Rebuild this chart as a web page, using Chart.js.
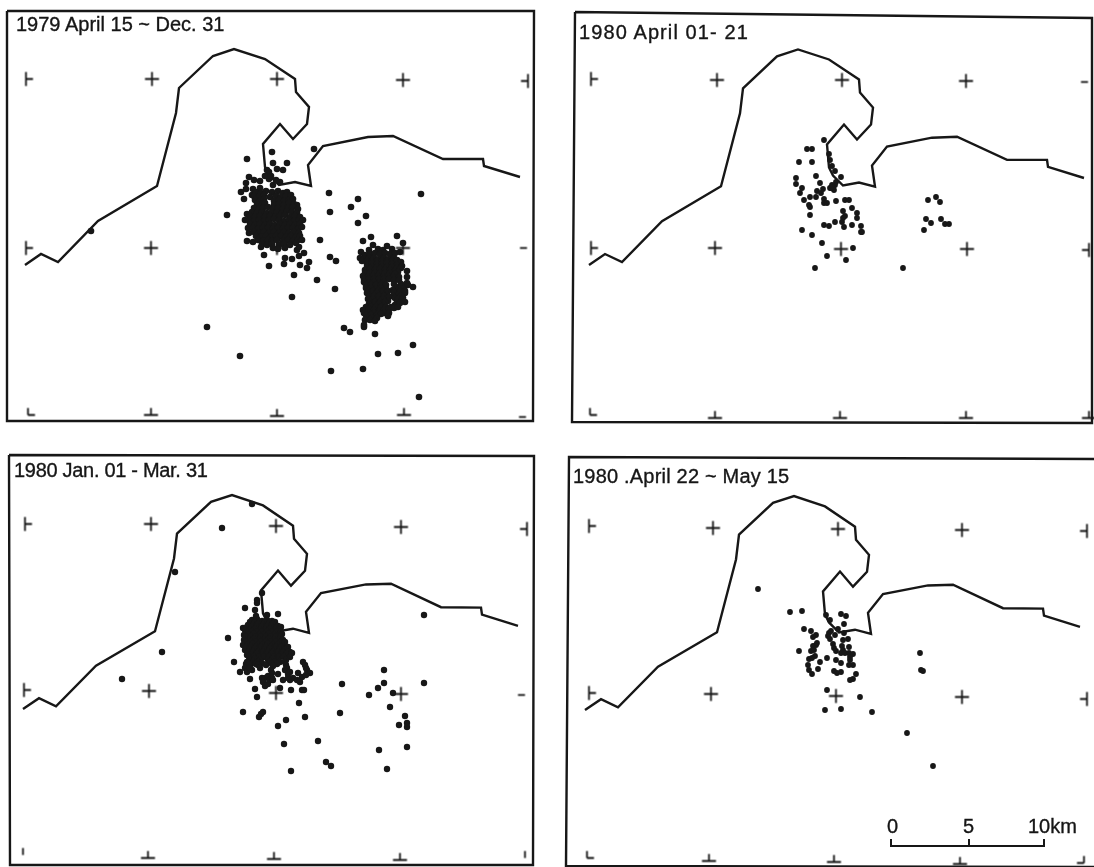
<!DOCTYPE html>
<html>
<head>
<meta charset="utf-8">
<title>Epicentre maps 1979-1980</title>
<script src="https://cdn.jsdelivr.net/npm/chart.js@4/dist/chart.umd.min.js"></script>
<style>
  html, body { margin: 0; padding: 0; background: #fff; overflow: hidden; }
  #sheet { position: relative; width: 1094px; height: 867px; overflow: hidden; }
  canvas { position: absolute; }
  .lbl {
    position: absolute; color: #161616; white-space: nowrap; line-height: 1;
    font-family: "Liberation Sans", sans-serif; font-size: 20px; transform: translateY(-50%);
    -webkit-text-stroke: .35px #161616;
  }
</style>
</head>
<body>
<div id="sheet"></div>
<script>
'use strict';

// All values are positions on the scanned sheet.

// ── Titles ──────────────────────────────────
const titles = ['1979 April 15 ~ Dec. 31', '1980 April 01- 21', '1980 Jan. 01 - Mar. 31', '1980 .April 22 ~ May 15'];

// ── Coast, as traced in the first panel ─────
const coastX = [25, 41, 58, 98, 157, 176, 179, 213, 234, 265, 295, 296, 309, 307, 293, 280, 263, 265, 269, 279, 295, 311, 308, 323, 368, 393, 443, 483, 484, 520];
const coastY = [265, 254, 262, 221, 186, 113, 88, 56, 49, 59, 79, 92, 107, 124, 139, 124, 144, 167, 175, 185, 182, 186, 165, 146, 137, 136, 159, 159, 166, 177];
// how far each panel's copy of the map sits from the first: dx, dy, tilt
const coastShift = [[0, 0, 0], [564, 0, 0.002], [-2, 444, 0.01], [560, 445, 0.01]];

// ── Frames ──────────────────────────────────
const frame1 = [[7, 11], [534, 11], [533, 421], [7, 421], [7, 11]];
const frame2 = [[575, 12], [1092, 18], [1092, 423], [572, 422], [575, 12]];
const frame3 = [[9, 455], [534, 456], [533, 865], [10, 865], [9, 455]];
const frame4 = [[1094, 459], [569, 457], [566, 866], [1094, 867]];

// ── Graticule marks, five columns by three rows ──
const cross1 = [[26, 79], [152, 79], [277, 79], [403, 80], [528, 81], [26, 248], [151, 248], [277, 248], [403, 248], [527, 248], [28, 415], [151, 415], [277, 416], [404, 415], [526, 417]];
const cross2 = [[591, 79], [717, 80], [842, 80], [966, 81], [1088, 82], [591, 248], [715, 248], [841, 249], [967, 249], [1089, 250], [590, 415], [715, 418], [840, 418], [966, 418], [1089, 418]];
const cross3 = [[25, 524], [151, 524], [276, 526], [401, 527], [527, 529], [24, 690], [149, 691], [276, 693], [401, 694], [525, 695], [23, 855], [148, 858], [274, 859], [400, 860], [525, 858]];
const cross4 = [[589, 526], [713, 528], [838, 529], [962, 530], [1087, 531], [589, 693], [711, 694], [836, 696], [962, 697], [1087, 699], [587, 858], [709, 861], [834, 862], [960, 864], [1084, 863]];
const crossArms1 = ['NES', 'NESW', 'NESW', 'NESW', 'NSW', 'NES', 'NESW', 'NESW', 'NESW', 'W', 'NE', 'NEW', 'NEW', 'NEW', 'W'];
const crossArms2 = ['NES', 'NESW', 'NESW', 'NESW', 'W', 'NES', 'NESW', 'NESW', 'NESW', 'NSW', 'NE', 'NEW', 'NEW', 'NEW', 'NEW'];
const crossArms3 = ['NES', 'NESW', 'NESW', 'NESW', 'NSW', 'NES', 'NESW', 'NESW', 'NESW', 'W', 'N', 'NEW', 'NEW', 'NEW', 'N'];
const crossArms4 = ['NES', 'NESW', 'NESW', 'NESW', 'NSW', 'NES', 'NESW', 'NESW', 'NESW', 'NSW', 'NE', 'NEW', 'NEW', 'NEW', 'NW'];

// ── Epicentres ──────────────────────────────
const quakes1 = [
  [247,159],[272,152],[273,163],[277,169],[283,170],[287,163],[314,149],[227,215],[329,193],[330,212],[358,199],[351,207],[366,216],[358,223],[421,194],[320,240],
  [363,241],[371,237],[397,236],[403,243],[330,257],[336,261],[317,280],[335,289],[292,297],[294,275],[269,266],[264,255],[261,247],[284,264],[285,258],[292,259],
  [300,265],[307,268],[309,262],[304,253],[299,256],[297,250],[299,247],[344,328],[350,332],[375,334],[364,327],[413,345],[398,353],[378,354],[363,369],[331,371],
  [419,397],[207,327],[240,356],[91,231],
  // north-west cluster
  [249,177],[246,183],[246,189],[241,192],[244,199],[254,180],[260,181],[267,170],[269,172],[269,179],[280,182],[273,185],[253,189],[260,188],[252,195],[247,214],
  [245,220],[248,228],[249,233],[247,241],[253,242],[265,176],[271,176],[276,180],
  [256,192],[261,193],[266,191],[272,192],[278,191],[283,193],[287,192],
  [254,196],[259,197],[264,195],[270,197],[276,196],[281,197],[286,196],[291,195],
  [255,200],[260,201],[264,199],[274,201],[279,200],[284,201],[289,200],[293,199],
  [257,204],[262,205],[265,203],[274,205],[279,204],[284,205],[289,203],[294,204],[297,205],
  [254,208],[259,209],[263,208],[268,207],[273,209],[278,208],[283,209],[288,208],[293,207],[298,209],
  [252,212],[257,213],[262,212],[267,213],[272,212],[277,212],[282,213],[287,211],[292,212],[297,213],
  [250,216],[255,217],[260,216],[265,217],[270,216],[275,217],[280,216],[285,215],[290,217],[295,216],[300,217],
  [249,220],[254,221],[259,220],[264,221],[269,220],[274,219],[279,220],[284,221],[289,220],[294,221],[299,220],[303,220],
  [250,224],[255,225],[260,224],[265,225],[270,224],[275,225],[280,224],[285,225],[290,224],[295,225],[300,224],
  [253,228],[258,229],[263,228],[268,228],[273,229],[278,228],[283,229],[288,228],[293,228],[298,229],[302,227],
  [254,232],[259,233],[264,232],[269,233],[274,232],[279,233],[284,232],[289,233],[294,232],[299,233],
  [256,236],[261,237],[266,236],[271,237],[276,236],[281,236],[286,237],[291,236],[296,237],[300,236],
  [258,240],[263,241],[268,240],[272,241],[277,240],[283,241],[288,240],[293,241],[298,240],[302,240],
  [262,244],[267,245],[272,244],[279,245],[284,244],[290,245],[296,243],
  [273,248],[278,249],[285,248],
  // south-east cluster
  [373,245],[387,246],[369,250],[378,249],[383,250],[392,249],[361,252],[365,255],[370,254],[375,253],[380,254],[385,253],[390,254],[395,253],[400,252],
  [360,258],[364,259],[369,258],[374,258],[379,259],[384,258],[389,259],[394,258],[397,260],
  [362,261],[367,261],[372,261],[377,261],[382,261],[387,261],[392,261],[396,262],[401,262],
  [367,264],[372,263],[377,264],[382,264],[387,263],[392,264],[397,265],[402,266],
  [367,267],[372,267],[377,267],[382,267],[387,267],[392,267],[397,268],[401,268],
  [365,270],[370,269],[375,270],[380,269],[385,270],[390,270],[395,271],[398,272],[407,271],
  [365,273],[370,273],[375,273],[380,273],[385,273],[390,273],[395,274],
  [363,276],[368,277],[373,276],[378,276],[383,277],[388,276],[393,277],[399,277],[407,277],
  [364,279],[369,279],[374,279],[379,279],[384,279],[389,279],[394,280],[399,280],
  [364,282],[369,283],[374,282],[379,283],[384,282],[394,284],[401,284],[407,283],[413,287],
  [366,285],[371,285],[376,285],[381,285],[386,285],[397,287],[402,286],
  [366,288],[371,288],[376,289],[381,288],[386,289],[393,290],[399,289],[404,288],[408,285],
  [368,291],[373,291],[378,291],[383,291],[388,291],[394,292],[400,291],[405,291],
  [367,293],[372,294],[377,293],[382,294],[387,295],[393,296],[399,294],[405,293],
  [369,296],[374,296],[379,296],[384,296],[389,297],[395,298],[401,296],
  [368,299],[373,299],[378,300],[383,299],[388,301],[398,299],[403,298],
  [370,302],[375,302],[380,302],[385,302],[397,302],
  [369,304],[374,305],[379,304],[384,305],[395,305],[400,303],[405,302],
  [366,307],[371,307],[376,307],[381,307],[386,307],[391,307],[396,307],
  [363,310],[369,309],[374,310],[379,311],[384,310],[389,309],[394,308],[398,307],
  [364,313],[369,313],[374,313],[379,313],[384,313],[389,313],
  [366,315],[371,315],[376,316],[381,314],[388,316],
  [367,318],[372,318],[377,318],
  [365,320],[370,320],[375,321],[364,325]
];

const quakes2 = [
  [824,140],[807,149],[812,149],[799,162],[812,162],[829,154],[830,160],[832,166],[835,171],[816,176],[796,178],[796,184],[802,188],[800,193],[820,183],[841,177],
  [836,182],[835,185],[831,188],[834,190],[830,188],[832,185],[833,187],[817,191],[823,189],[821,193],[810,197],[816,197],[804,200],[809,205],[810,207],[824,199],
  [824,203],[827,203],[836,201],[845,200],[849,200],[843,211],[852,208],[857,213],[857,218],[845,216],[843,218],[810,215],[824,225],[829,226],[835,222],[842,222],
  [844,227],[852,225],[861,226],[861,232],[862,232],[802,230],[812,235],[822,243],[853,248],[827,256],[846,260],[815,268],[903,268],[928,200],[936,197],[940,202],
  [926,219],[931,223],[941,219],[945,224],[949,224],[924,230]
];

const quakes3 = [
  [262,593],[257,603],[245,608],[255,610],[267,615],[278,614],[243,628],[228,638],[234,662],[240,672],[250,679],[255,689],[257,697],[243,712],[261,714],[259,717],
  [263,712],[278,726],[286,720],[305,717],[299,703],[291,690],[302,690],[304,690],[284,744],[318,741],[291,771],[326,762],[331,766],[342,684],[340,713],[384,670],
  [384,683],[378,688],[369,695],[393,693],[390,707],[405,716],[399,725],[407,723],[407,727],[379,750],[407,747],[387,769],[424,615],[424,683],[252,504],[222,528],
  [175,572],[162,652],
  [122,679],[257,600],[256,616],
  // dense cluster
  [252,620],[257,619],[262,621],[267,620],[272,621],
  [250,622],[255,622],[260,622],[265,622],[270,622],[275,622],
  [248,625],[253,625],[258,624],[263,625],[268,625],[273,624],[278,626],
  [247,627],[252,627],[257,627],[262,627],[267,627],[272,627],[277,627],[281,627],
  [245,630],[250,630],[255,629],[260,630],[265,630],[270,629],[275,630],[280,630],
  [247,632],[252,632],[257,632],[262,632],[267,632],[272,632],[277,632],[281,632],
  [244,635],[249,635],[254,634],[259,635],[264,635],[269,634],[274,635],[279,635],[282,634],
  [246,637],[251,637],[256,637],[261,637],[266,637],[271,637],[276,637],[281,637],
  [244,640],[249,640],[254,639],[259,640],[264,640],[269,639],[274,640],[279,640],[283,640],
  [246,642],[251,642],[256,642],[261,642],[266,642],[271,642],[276,642],[281,642],[285,642],
  [243,645],[248,645],[253,644],[258,645],[263,645],[268,644],[273,645],[278,645],[283,646],[286,648],
  [246,647],[251,647],[256,647],[261,647],[266,647],[271,647],[276,647],[281,647],[288,647],
  [245,650],[250,650],[255,649],[260,650],[265,650],[270,649],[275,650],[280,650],[285,650],[290,652],
  [248,652],[253,652],[258,652],[263,652],[268,652],[273,652],[278,652],[283,652],[288,652],
  [247,655],[252,655],[257,654],[262,655],[267,655],[272,654],[277,655],[282,655],[287,654],[292,653],
  [249,657],[254,657],[259,657],[264,657],[269,657],[274,657],[279,657],[284,657],[290,657],
  [250,660],[255,659],[260,660],[268,660],[273,659],[278,660],[286,660],
  [253,662],[258,662],[270,662],[275,662],[280,662],[285,662],
  [246,664],[251,664],[256,664],[262,663],[266,665],[272,664],[277,664],
  // arcs below the cluster
  [247,662],[249,664],[245,668],[252,670],[247,672],[250,668],[258,665],[260,668],[262,678],[265,678],[268,676],[270,680],[272,678],[273,666],[271,670],[272,673],
  [273,680],[278,674],[286,665],[287,668],[285,670],[290,672],[288,674],[290,680],[293,678],[297,680],[298,673],[302,677],[300,682],[303,662],[305,665],[306,668],
  [307,670],[310,673],[306,675],[280,688],[283,680],[288,678],[263,682],[265,686],[268,684]
];

const quakes4 = [
  [758,589],[790,612],[802,611],[826,615],[830,620],[841,614],[846,616],[844,624],[804,629],[811,631],[816,635],[813,637],[829,633],[831,631],[828,636],[835,635],
  [830,639],[838,629],[844,633],[843,640],[848,639],[816,645],[813,646],[817,643],[811,651],[814,650],[799,651],[833,644],[834,648],[836,651],[842,646],[843,650],
  [841,653],[845,653],[849,647],[849,653],[853,654],[850,657],[850,660],[853,665],[849,665],[815,656],[809,659],[812,658],[820,662],[827,658],[836,660],[841,663],
  [808,665],[809,670],[812,674],[818,669],[834,671],[837,673],[841,672],[856,674],[853,679],[850,680],[827,690],[860,697],[825,710],[841,709],[872,712],[907,733],
  [933,766],[920,653],[921,670],[923,671]
];

// ── Scale bar ───────────────────────────────
const scaleBar = [[891, 839], [891, 846], [969, 846], [969, 839], [969, 846], [1044, 846], [1044, 839]];
const scaleLabels = ['0', '5', '10km'];

const INK = '#171717';

// little graticule tick drawn onto its own canvas, used as a point style
function armMark(arms) {
  const c = document.createElement('canvas');
  c.width = c.height = 17;
  const g = c.getContext('2d');
  g.strokeStyle = INK;
  g.lineWidth = 1.8;
  g.beginPath();
  if (arms.includes('N')) { g.moveTo(8.5, 8.5); g.lineTo(8.5, 1.5); }
  if (arms.includes('S')) { g.moveTo(8.5, 8.5); g.lineTo(8.5, 15.5); }
  if (arms.includes('E')) { g.moveTo(8.5, 8.5); g.lineTo(15.5, 8.5); }
  if (arms.includes('W')) { g.moveTo(8.5, 8.5); g.lineTo(1.5, 8.5); }
  g.stroke();
  return c;
}

const toXY = p => ({ x: p[0], y: p[1] });

const panels = [
  { box: [0, 0, 547, 433],   frame: frame1, cross: cross1, arms: crossArms1, quakes: quakes1, r: 3.3, title: [16, 24],  spacing: 0 },
  { box: [547, 0, 547, 433], frame: frame2, cross: cross2, arms: crossArms2, quakes: quakes2, r: 2.9, title: [579, 32], spacing: 1.1 },
  { box: [0, 433, 547, 434], frame: frame3, cross: cross3, arms: crossArms3, quakes: quakes3, r: 3.2, title: [14, 470], spacing: -0.3 },
  { box: [547, 433, 547, 434], frame: frame4, cross: cross4, arms: crossArms4, quakes: quakes4, r: 2.9, title: [573, 476], spacing: 0.2 }
];

const sheet = document.getElementById('sheet');

panels.forEach((p, i) => {
  const [left, top, w, h] = p.box;
  const cv = document.createElement('canvas');
  cv.width = w; cv.height = h;
  cv.style.left = left + 'px';
  cv.style.top  = top + 'px';
  sheet.appendChild(cv);

  const [dx, dy, tilt] = coastShift[i];
  const coast = coastX.map((x, k) => ({ x: x + dx, y: coastY[k] + dy + tilt * (x - 25) }));

  const line = (label, data, width) => ({
    label, data, showLine: true, tension: 0, borderColor: INK, borderWidth: width,
    pointRadius: 0, clip: false, fill: false
  });

  const datasets = [
    { label: 'Epicentres', data: p.quakes.map(toXY), pointRadius: p.r, pointBackgroundColor: INK, pointBorderWidth: 0, showLine: false, clip: false },
    line('Coast', coast, 2.4),
    line('Frame', p.frame.map(toXY), 2.4),
    { label: 'Graticule', data: p.cross.map(toXY), pointStyle: p.arms.map(armMark), showLine: false, clip: false }
  ];
  if (i === 3) datasets.push(line('Scale', scaleBar.map(toXY), 2));

  new Chart(cv.getContext('2d'), {
    type: 'scatter',
    data: { datasets },
    options: {
      responsive: false, animation: false, events: [],
      layout: { padding: 0, autoPadding: false },
      plugins: { legend: { display: false }, tooltip: { enabled: false } },
      scales: {
        x: { type: 'linear', display: false, min: left, max: left + w },
        y: { type: 'linear', display: false, reverse: true, min: top, max: top + h }
      }
    }
  });

  const t = document.createElement('div');
  t.className = 'lbl';
  t.textContent = titles[i];
  t.style.left = p.title[0] + 'px';
  t.style.top  = p.title[1] + 'px';
  t.style.letterSpacing = p.spacing + 'px';
  sheet.appendChild(t);
});

[[887, 826], [963, 826], [1028, 826]].forEach((pos, i) => {
  const t = document.createElement('div');
  t.className = 'lbl';
  t.textContent = scaleLabels[i];
  t.style.left = pos[0] + 'px';
  t.style.top  = pos[1] + 'px';
  sheet.appendChild(t);
});
</script>
</body>
</html>
